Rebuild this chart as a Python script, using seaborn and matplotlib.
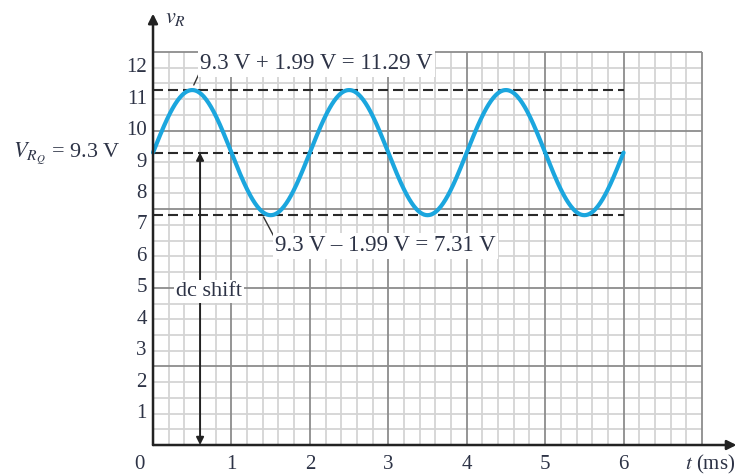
import numpy as np
import pandas as pd
import matplotlib
matplotlib.use('Agg')
import matplotlib.pyplot as plt
import seaborn as sns

# values
dc_level = 9.3
peak_amp = 1.99
period_ms = 2.0
t_end_ms = 6.0
max_level = round(dc_level + peak_amp, 2)
min_level = round(dc_level - peak_amp, 2)
dc_arrow_t = 0.6

y_ticks = list(range(1, 13))
x_ticks = list(range(1, 7))
grid_t_max = 7.0
grid_v_max = 12.5

top_note = '9.3 V + 1.99 V = 11.29 V'
bottom_note = '9.3 V \u2013 1.99 V = 7.31 V'
dc_note = 'dc shift'
vrq_note = r'$V_{R_Q}$ = 9.3 V'

# sine from the read dc level / amplitude / period
t = np.linspace(0, t_end_ms, 601)
wave = pd.DataFrame({'t': t, 'v': dc_level + peak_amp * np.sin(2 * np.pi * t / period_ms)})

sns.set_style('white')
plt.rcParams['font.family'] = ['Liberation Serif', 'DejaVu Serif']
plt.rcParams['mathtext.fontset'] = 'stix'

txt_col = '#2d3346'
fs = 15
note_fs = 16.5

fig = plt.figure(figsize=(7.38, 4.75), dpi=100)
ax = fig.add_axes([0, 0, 1, 1])
ax.set_xlim(-1.951, 7.459)
ax.set_ylim(-0.954, 14.154)
ax.axis('off')

# graph paper
for x in np.round(np.arange(0.2, grid_t_max + 0.01, 0.2), 1):
    major = abs(x - round(x)) < 1e-6
    ax.vlines(x, 0, grid_v_max, color='#8c8c8c' if major else '#d4d4d4',
              lw=1.3, zorder=2 if major else 1)
for y in np.round(np.arange(0.5, grid_v_max + 0.01, 0.5), 1):
    major = abs(y / 2.5 - round(y / 2.5)) < 1e-6
    ax.hlines(y, 0, grid_t_max, color='#8c8c8c' if major else '#d4d4d4',
              lw=1.3, zorder=2 if major else 1)

# dashed reference levels
for lvl in [max_level, dc_level, min_level]:
    ax.hlines(lvl, 0, t_end_ms, color='#2a2a2a', lw=1.5,
              linestyles=(0, (4.8, 2.4)), zorder=3)

sns.lineplot(data=wave, x='t', y='v', ax=ax, color='#1ba6de', lw=3, zorder=4)
ax.set_xlabel('')
ax.set_ylabel('')

# axes with arrows
ax.annotate('', xy=(0, 13.72), xytext=(0, 0),
            arrowprops=dict(arrowstyle='-|>', lw=1.8, color='#222222',
                            mutation_scale=14, shrinkA=0, shrinkB=0), zorder=6)
ax.annotate('', xy=(7.44, 0), xytext=(0, 0),
            arrowprops=dict(arrowstyle='-|>', lw=1.8, color='#222222',
                            mutation_scale=14, shrinkA=0, shrinkB=0), zorder=6)

# dc shift arrow
ax.annotate('', xy=(dc_arrow_t, dc_level), xytext=(dc_arrow_t, 0),
            arrowprops=dict(arrowstyle='<|-|>', lw=1.4, color='#222222',
                            mutation_scale=11, shrinkA=0, shrinkB=0), zorder=5)
ax.text(0.71, 4.87, dc_note, ha='center', va='center', fontsize=16,
        color=txt_col, zorder=7,
        bbox=dict(fc='white', ec='none', pad=1.5))

# notes with leaders
ax.plot([0.52, 0.6], [11.45, 11.88], color='#333333', lw=1, zorder=5)
ax.text(0.6, 12.12, top_note, ha='left', va='center', fontsize=note_fs,
        color=txt_col, zorder=7, bbox=dict(fc='white', ec='none', pad=1.5))
ax.plot([1.41, 1.57], [7.25, 6.5], color='#333333', lw=1, zorder=5)
ax.text(1.56, 6.33, bottom_note, ha='left', va='center', fontsize=note_fs,
        color=txt_col, zorder=7, bbox=dict(fc='white', ec='none', pad=1.5))

ax.text(-0.42, 9.13, vrq_note, ha='right', va='baseline', fontsize=fs + 1,
        color=txt_col)

# tick labels
for v in y_ticks:
    ax.text(-0.08, v, str(v), ha='right', va='center', fontsize=fs, color=txt_col)
for v in x_ticks:
    ax.text(v, -0.62, str(v), ha='center', va='center', fontsize=fs, color=txt_col)
ax.text(-0.17, -0.62, '0', ha='center', va='center', fontsize=fs, color=txt_col)
ax.text(7.42, -0.62, r'$t$ (ms)', ha='right', va='center', fontsize=fs, color=txt_col)
ax.text(0.29, 13.55, r'$v_R$', ha='center', va='center', fontsize=fs + 1, color=txt_col)

fig.savefig('out.png', dpi=100)
